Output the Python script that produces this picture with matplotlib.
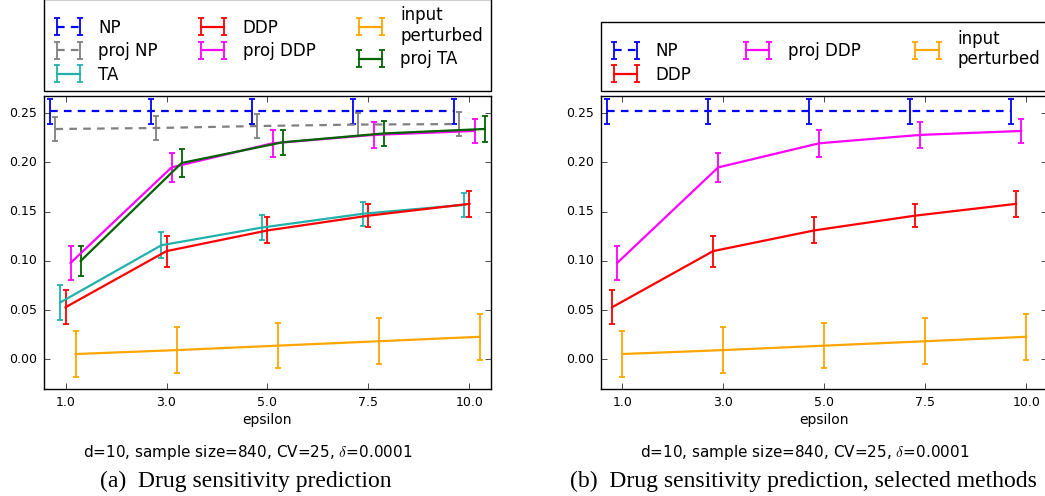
import matplotlib
matplotlib.use("Agg")
import matplotlib.pyplot as plt
import numpy as np

plt.style.use('classic')
plt.rcParams['figure.facecolor'] = 'white'
plt.rcParams['savefig.facecolor'] = 'white'
plt.rcParams['font.family'] = ['DejaVu Sans']
plt.rcParams['mathtext.fontset'] = 'cm'

# ---- data ----
eps_labels = ['1.0', '3.0', '5.0', '7.5', '10.0']

np_vals = [0.252, 0.252, 0.252, 0.252, 0.252]
np_err = [0.0125, 0.0125, 0.0125, 0.0125, 0.0125]

projnp_vals = [0.234, 0.235, 0.237, 0.2385, 0.239]
projnp_err = [0.012, 0.012, 0.012, 0.012, 0.012]

ta_vals = [0.058, 0.116, 0.134, 0.148, 0.157]
ta_err = [0.018, 0.013, 0.0125, 0.012, 0.012]

ddp_vals = [0.053, 0.110, 0.131, 0.146, 0.158]
ddp_err = [0.0175, 0.0157, 0.0132, 0.012, 0.0135]

projddp_vals = [0.098, 0.195, 0.2195, 0.228, 0.232]
projddp_err = [0.017, 0.015, 0.0135, 0.0133, 0.0125]

input_vals = [0.0055, 0.0095, 0.014, 0.0185, 0.023]
input_err = [0.023, 0.023, 0.0226, 0.0232, 0.0235]

projta_vals = [0.100, 0.1995, 0.2205, 0.2295, 0.234]
projta_err = [0.0153, 0.0138, 0.0125, 0.0125, 0.0127]

series_all = [
    ('NP', np_vals, np_err, '#0000ff', '--'),
    ('proj NP', projnp_vals, projnp_err, '#808080', '--'),
    ('TA', ta_vals, ta_err, '#20b2aa', '-'),
    ('DDP', ddp_vals, ddp_err, '#ff0000', '-'),
    ('proj DDP', projddp_vals, projddp_err, '#ff00ff', '-'),
    ('input\nperturbed', input_vals, input_err, '#ffa500', '-'),
    ('proj TA', projta_vals, projta_err, '#006400', '-'),
]
selected = ['NP', 'DDP', 'proj DDP', 'input\nperturbed']
series_sel = [s for s in series_all if s[0] in selected]

fig = plt.figure(figsize=(10.45, 4.96), dpi=100)
ax_w = 446.4 / 1045
ax_b = 1 - 389 / 496
ax_h = (389 - 96) / 496
ax1 = fig.add_axes([44.3 / 1045, ax_b, ax_w, ax_h])
ax2 = fig.add_axes([601 / 1045, ax_b, ax_w, ax_h])

x = np.arange(len(eps_labels))


def draw(ax, series):
    ref = 3
    for i, (lab, vals, err, col, ls) in enumerate(series):
        off = (i - ref) * 0.05
        kw = dict(color=col, ecolor=col, lw=1.6, elinewidth=1.3,
                  capsize=2.5, capthick=1.3, label=lab)
        c = ax.errorbar(x + off, vals, yerr=err, linestyle=ls, **kw)
        if ls == '--':
            c[0].set_dashes([5.5, 4.5])
    ax.set_xlim(-0.21, 4.21)
    ax.set_ylim(-0.03, 0.2675)
    ax.set_xticks(x)
    ax.set_xticklabels(eps_labels)
    ax.set_yticks([0.0, 0.05, 0.10, 0.15, 0.20, 0.25])
    ax.set_yticklabels(['0.00', '0.05', '0.10', '0.15', '0.20', '0.25'])
    ax.tick_params(labelsize=9, direction='in', length=4, pad=5)
    ax.set_xlabel('epsilon', fontsize=10, labelpad=3)
    leg = ax.legend(loc='lower left', bbox_to_anchor=(0, 1.017, 1, 0.2),
                    mode='expand', ncol=3, borderaxespad=0, fontsize=12,
                    numpoints=2, handlelength=2.0, labelspacing=0.33,
                    borderpad=0.45, handletextpad=0.8, frameon=True,
                    fancybox=False)
    leg.get_frame().set_linewidth(1.0)
    leg.get_frame().set_edgecolor('black')


draw(ax1, series_all)
draw(ax2, series_sel)

sub = r'd=10, sample size=840, CV=25, $\delta$=0.0001'
fig.text(248 / 1045, 1 - 452 / 496, sub, ha='center', va='center', fontsize=11)
fig.text(805 / 1045, 1 - 452 / 496, sub, ha='center', va='center', fontsize=11)
fig.text(246 / 1045, 1 - 481.7 / 496, '(a)  Drug sensitivity prediction',
         ha='center', va='center', fontsize=17, family='Liberation Serif')
fig.text(803 / 1045, 1 - 481.7 / 496,
         '(b)  Drug sensitivity prediction, selected methods',
         ha='center', va='center', fontsize=17, family='Liberation Serif')

fig.savefig('out.png', dpi=100)
